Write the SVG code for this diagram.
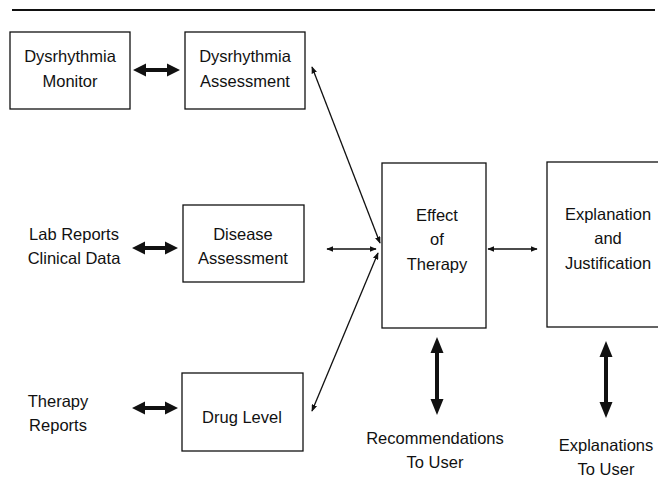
<svg xmlns="http://www.w3.org/2000/svg" width="658" height="493" viewBox="0 0 658 493">
  <style>
    .box { fill: #ffffff; stroke: #111111; stroke-width: 1.3; }
    .lbl { font-family: "Liberation Sans", Arial, sans-serif; font-size: 16.5px; fill: #111111; text-anchor: middle; }
    .thin { stroke: #111111; stroke-width: 1.3; fill: none; marker-start: url(#head); marker-end: url(#head); }
    .thick { fill: #111111; stroke: none; }
  </style>
  <defs>
    <marker id="head" viewBox="0 0 10 8" refX="9" refY="4" markerWidth="7" markerHeight="5.6" markerUnits="userSpaceOnUse" orient="auto-start-reverse">
      <path d="M0,0 L10,4 L0,8 Z" fill="#111111"/>
    </marker>
  </defs>

  <rect width="658" height="493" fill="#ffffff"/>

  <!-- page rule -->
  <line x1="12" y1="10" x2="655" y2="10" stroke="#111111" stroke-width="2"/>

  <g id="dysrhythmia-monitor">
    <rect class="box" x="10" y="32" width="120" height="77"/>
    <text class="lbl" x="70" y="62">Dysrhythmia</text>
    <text class="lbl" x="70" y="87">Monitor</text>
  </g>

  <g id="dysrhythmia-assessment">
    <rect class="box" x="185" y="32" width="120" height="77"/>
    <text class="lbl" x="245" y="62">Dysrhythmia</text>
    <text class="lbl" x="245" y="87">Assessment</text>
  </g>

  <g id="lab-reports">
    <text class="lbl" x="74" y="240">Lab Reports</text>
    <text class="lbl" x="74" y="264">Clinical Data</text>
  </g>

  <g id="disease-assessment">
    <rect class="box" x="183" y="205" width="121" height="77"/>
    <text class="lbl" x="243" y="240">Disease</text>
    <text class="lbl" x="243" y="264">Assessment</text>
  </g>

  <g id="therapy-reports">
    <text class="lbl" x="58" y="407">Therapy</text>
    <text class="lbl" x="58" y="431">Reports</text>
  </g>

  <g id="drug-level">
    <rect class="box" x="182" y="373" width="121" height="78"/>
    <text class="lbl" x="242" y="423">Drug Level</text>
  </g>

  <g id="effect-of-therapy">
    <rect class="box" x="382" y="163" width="104" height="165"/>
    <text class="lbl" x="437" y="221">Effect</text>
    <text class="lbl" x="437" y="245">of</text>
    <text class="lbl" x="437" y="270">Therapy</text>
  </g>

  <g id="explanation-and-justification">
    <rect class="box" x="547" y="162" width="130" height="165"/>
    <text class="lbl" x="608" y="220">Explanation</text>
    <text class="lbl" x="608" y="244">and</text>
    <text class="lbl" x="608" y="269">Justification</text>
  </g>

  <g id="recommendations-to-user">
    <text class="lbl" x="435" y="444">Recommendations</text>
    <text class="lbl" x="435" y="468">To User</text>
  </g>

  <g id="explanations-to-user">
    <text class="lbl" x="606" y="451">Explanations</text>
    <text class="lbl" x="606" y="475">To User</text>
  </g>

  <g id="connectors">
    <!-- heavy two-way arrows -->
    <polygon class="thick" points="133,70 146,63.5 146,68 167,68 167,63.5 180,70 167,76.5 167,72 146,72 146,76.5"/>
    <polygon class="thick" points="132,248 145,241.5 145,246 165,246 165,241.5 178,248 165,254.5 165,250 145,250 145,254.5"/>
    <polygon class="thick" points="132,408 145,401.5 145,406 165,406 165,401.5 178,408 165,414.5 165,410 145,410 145,414.5"/>
    <polygon class="thick" points="437,337 443.5,353 439,353 439,399 443.5,399 437,415 430.5,399 435,399 435,353 430.5,353"/>
    <polygon class="thick" points="606,341 612.5,357 608,357 608,402 612.5,402 606,418 599.5,402 604,402 604,357 599.5,357"/>

    <!-- light two-way arrows -->
    <line class="thin" x1="312" y1="67" x2="380" y2="243"/>
    <line class="thin" x1="327" y1="249" x2="376" y2="249"/>
    <line class="thin" x1="312" y1="411" x2="378" y2="253"/>
    <line class="thin" x1="488" y1="249" x2="537" y2="249"/>
  </g>
</svg>
